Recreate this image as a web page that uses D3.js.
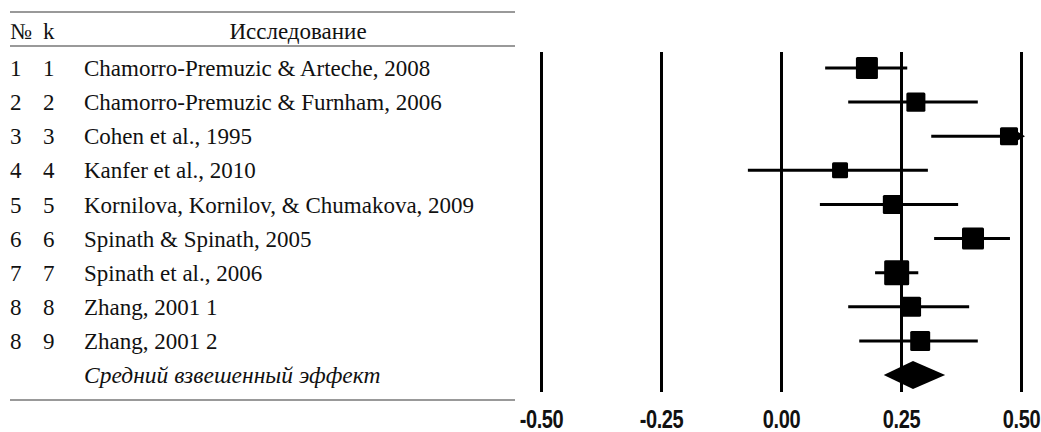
<!DOCTYPE html>
<html>
<head>
<meta charset="utf-8">
<script src="https://cdn.jsdelivr.net/npm/d3@7"></script>
<style>
  body { margin: 0; background: #fff; }
  svg { display: block; }
  .tbl text, text.tbl { font-family: "Liberation Serif", "Times New Roman", Times, "DejaVu Serif", serif; font-size: 23px; fill: #111; }
  .axis text { font-family: "Liberation Sans", Arial, sans-serif; font-weight: bold; font-size: 25px; fill: #111; }
</style>
</head>
<body>
<div id="chart"></div>
<script>
// data
var nums = ["1", "2", "3", "4", "5", "6", "7", "8", "8"];
var ks = ["1", "2", "3", "4", "5", "6", "7", "8", "9"];
var studies = [
  "Chamorro-Premuzic & Arteche, 2008",
  "Chamorro-Premuzic & Furnham, 2006",
  "Cohen et al., 1995",
  "Kanfer et al., 2010",
  "Kornilova, Kornilov, & Chumakova, 2009",
  "Spinath & Spinath, 2005",
  "Spinath et al., 2006",
  "Zhang, 2001 1",
  "Zhang, 2001 2"
];
var effects = [0.179, 0.281, 0.475, 0.123, 0.232, 0.400, 0.241, 0.271, 0.290];
var lower = [0.092, 0.140, 0.313, -0.069, 0.081, 0.319, 0.196, 0.140, 0.163];
var upper = [0.263, 0.410, 0.620, 0.306, 0.369, 0.477, 0.286, 0.392, 0.410];
var weights = [13.1, 9.8, 8.8, 6.9, 9.8, 13.1, 16.9, 10.8, 10.8];
var pooled = { est: 0.275, lo: 0.214, hi: 0.342 };
var pooledLabel = "Средний взвешенный эффект";
var tickVals = [-0.50, -0.25, 0.00, 0.25, 0.50];

var w = 1041;
var h = 432;

var svg = d3.select("#chart").append("svg")
  .attr("width", w)
  .attr("height", h);

var xScale = d3.scaleLinear().domain([-0.5, 0.5]).range([541, 1021]);
var yScale = d3.scaleLinear().domain([1, 10]).range([68, 375]);
var sizeScale = d3.scaleSqrt().domain([0, d3.max(weights)]).range([0, 25]);

var rows = studies.map(function(s, i) {
  return { n: nums[i], k: ks[i], name: s, est: effects[i], lo: lower[i], hi: upper[i], wt: weights[i], row: i + 1 };
});

// table rules
var ruleY = [12, 46, 400];
svg.selectAll("line.rule")
  .data(ruleY)
  .enter().append("line")
  .attr("class", "rule")
  .attr("x1", 10).attr("x2", 515)
  .attr("y1", function(d) { return d; })
  .attr("y2", function(d) { return d; })
  .attr("stroke", "#777")
  .attr("stroke-width", 1.5);

// header
var head = svg.append("g").attr("class", "tbl");
head.append("text").attr("x", 10).attr("y", 31).attr("dy", "0.35em").text("№");
head.append("text").attr("x", 43).attr("y", 31).attr("dy", "0.35em").text("k");
head.append("text").attr("x", 298).attr("y", 31).attr("dy", "0.35em").attr("text-anchor", "middle").text("Исследование");

// table rows
var trow = svg.append("g").attr("class", "tbl")
  .selectAll("g")
  .data(rows)
  .enter().append("g")
  .attr("transform", function(d) { return "translate(0," + yScale(d.row) + ")"; });
trow.append("text").attr("x", 10).attr("dy", "0.35em").text(function(d) { return d.n; });
trow.append("text").attr("x", 43).attr("dy", "0.35em").text(function(d) { return d.k; });
trow.append("text").attr("x", 84).attr("dy", "0.35em").text(function(d) { return d.name; });

svg.append("text").attr("class", "tbl")
  .attr("x", 84).attr("y", yScale(10)).attr("dy", "0.35em")
  .style("font-style", "italic")
  .style("font-size", "23.5px")
  .text(pooledLabel);

// axis with full-height tick lines
var fmt = d3.format(".2f");
var axis = d3.axisBottom(xScale)
  .tickValues(tickVals)
  .tickFormat(function(d) { return fmt(d).replace("\u2212", "-"); })
  .tickSizeInner(-340)
  .tickSizeOuter(0);

var gx = svg.append("g")
  .attr("class", "axis")
  .attr("transform", "translate(0,392)")
  .call(axis);
gx.select(".domain").remove();
gx.selectAll(".tick line").attr("stroke", "#000").attr("stroke-width", 3);
// narrow bold look
gx.selectAll(".tick text")
  .attr("y", 18)
  .attr("dy", "0.71em")
  .attr("transform", "scale(0.8,1)")
  .style("letter-spacing", "-0.5px");

// confidence intervals
var plot = svg.append("g");
plot.selectAll("line.ci")
  .data(rows)
  .enter().append("line")
  .attr("class", "ci")
  .attr("x1", function(d) { return xScale(Math.max(d.lo, -0.5)); })
  .attr("x2", function(d) { return xScale(Math.min(d.hi, 0.5)); })
  .attr("y1", function(d) { return yScale(d.row); })
  .attr("y2", function(d) { return yScale(d.row); })
  .attr("stroke", "#000")
  .attr("stroke-width", 3);

// arrows where interval runs off the scale
plot.selectAll("path.arrow")
  .data(rows.filter(function(d) { return d.hi > 0.5; }))
  .enter().append("path")
  .attr("class", "arrow")
  .attr("d", function(d) {
    var x = xScale(0.5), y = yScale(d.row);
    return "M" + (x - 6) + "," + (y - 6) + "L" + (x + 4) + "," + y + "L" + (x - 6) + "," + (y + 6) + "Z";
  })
  .attr("fill", "#000");

// squares
plot.selectAll("rect.est")
  .data(rows)
  .enter().append("rect")
  .attr("class", "est")
  .attr("x", function(d) { return xScale(d.est) - sizeScale(d.wt) / 2; })
  .attr("y", function(d) { return yScale(d.row) - sizeScale(d.wt) / 2; })
  .attr("width", function(d) { return sizeScale(d.wt); })
  .attr("height", function(d) { return sizeScale(d.wt); })
  .attr("rx", 1.5)
  .attr("fill", "#000");

// pooled diamond
var py = yScale(10);
plot.append("path")
  .attr("d", "M" + xScale(pooled.lo) + "," + py +
    "L" + xScale(pooled.est) + "," + (py - 14) +
    "L" + xScale(pooled.hi) + "," + py +
    "L" + xScale(pooled.est) + "," + (py + 14) + "Z")
  .attr("fill", "#000");
</script>
</body>
</html>
